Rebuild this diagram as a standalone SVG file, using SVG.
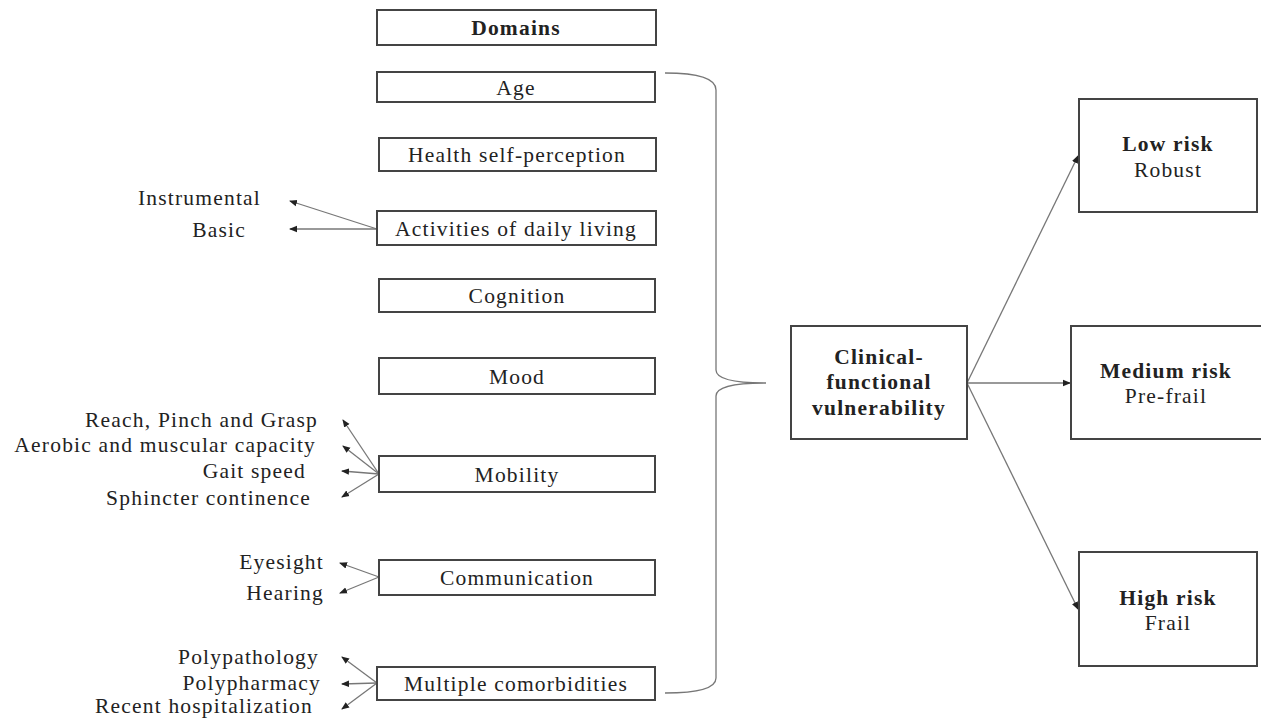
<svg xmlns="http://www.w3.org/2000/svg" width="1261" height="720" viewBox="0 0 1261 720">
<defs>
<style>
text{font-family:"Liberation Serif","Times New Roman",serif;font-size:21.5px;letter-spacing:1.2px;fill:#222}
.b{font-weight:bold}
.box{fill:#fff;stroke:#444;stroke-width:2}
.ln{stroke:#777;stroke-width:1.3;fill:none}
.c{text-anchor:middle}
.r{text-anchor:end}
</style>
<marker id="ah" markerWidth="8" markerHeight="8" refX="7" refY="4" orient="auto" markerUnits="userSpaceOnUse">
<path d="M0,0.8 L8,4 L0,7.2 Z" fill="#222"/>
</marker>
</defs>
<rect width="1261" height="720" fill="#fff"/>
<g id="connectors">
<path class="ln" d="M665,73 Q716,73 716,90 L716,370 Q716,383 766,383 Q716,383 716,396 L716,678 Q716,693 665,693"/>
<line class="ln" x1="967" y1="383" x2="1078" y2="156" marker-end="url(#ah)"/>
<line class="ln" x1="967" y1="383" x2="1070" y2="383" marker-end="url(#ah)"/>
<line class="ln" x1="967" y1="383" x2="1078" y2="609" marker-end="url(#ah)"/>
<line class="ln" x1="377" y1="229" x2="290" y2="201" marker-end="url(#ah)"/>
<line class="ln" x1="377" y1="229" x2="290" y2="229" marker-end="url(#ah)"/>
<line class="ln" x1="379" y1="474" x2="343" y2="420" marker-end="url(#ah)"/>
<line class="ln" x1="379" y1="474" x2="343" y2="446" marker-end="url(#ah)"/>
<line class="ln" x1="379" y1="474" x2="342" y2="471" marker-end="url(#ah)"/>
<line class="ln" x1="379" y1="474" x2="342" y2="497" marker-end="url(#ah)"/>
<line class="ln" x1="379" y1="577" x2="340" y2="563" marker-end="url(#ah)"/>
<line class="ln" x1="379" y1="577" x2="340" y2="593" marker-end="url(#ah)"/>
<line class="ln" x1="377" y1="683" x2="342" y2="657" marker-end="url(#ah)"/>
<line class="ln" x1="377" y1="683" x2="342" y2="684" marker-end="url(#ah)"/>
<line class="ln" x1="377" y1="683" x2="342" y2="709" marker-end="url(#ah)"/>
</g>
<g id="domains"><rect class="box" x="377" y="10" width="279" height="35"/><text class="b c" x="516" y="35">Domains</text></g>
<g id="age"><rect class="box" x="377" y="72" width="278" height="30"/><text class="c" x="516" y="95">Age</text></g>
<g id="health"><rect class="box" x="379" y="138" width="277" height="33"/><text class="c" x="517" y="162">Health self-perception</text></g>
<g id="adl"><rect class="box" x="377" y="211" width="279" height="34"/><text class="c" x="516" y="236">Activities of daily living</text></g>
<g id="cognition"><rect class="box" x="379" y="279" width="276" height="33"/><text class="c" x="517" y="303">Cognition</text></g>
<g id="mood"><rect class="box" x="379" y="358" width="276" height="36"/><text class="c" x="517" y="384">Mood</text></g>
<g id="mobility"><rect class="box" x="379" y="456" width="276" height="36"/><text class="c" x="517" y="482">Mobility</text></g>
<g id="communication"><rect class="box" x="379" y="560" width="276" height="35"/><text class="c" x="517" y="585">Communication</text></g>
<g id="comorbidities"><rect class="box" x="377" y="667" width="278" height="33"/><text class="c" x="516" y="691">Multiple comorbidities</text></g>
<g id="adl-sub"><text class="r" x="261" y="205">Instrumental</text><text class="r" x="246" y="237">Basic</text></g>
<g id="mobility-sub"><text class="r" x="318" y="427">Reach, Pinch and Grasp</text><text class="r" x="316" y="452">Aerobic and muscular capacity</text><text class="r" x="306" y="478">Gait speed</text><text class="r" x="311" y="505">Sphincter continence</text></g>
<g id="communication-sub"><text class="r" x="324" y="569">Eyesight</text><text class="r" x="324" y="600">Hearing</text></g>
<g id="comorbidities-sub"><text class="r" x="319" y="664">Polypathology</text><text class="r" x="321" y="690">Polypharmacy</text><text class="r" x="313" y="713">Recent hospitalization</text></g>
<g id="clinical"><rect class="box" x="791" y="326" width="176" height="113"/><text class="b c" x="879" y="364">Clinical-</text><text class="b c" x="879" y="389">functional</text><text class="b c" x="879" y="415">vulnerability</text></g>
<g id="low"><rect class="box" x="1079" y="99" width="178" height="113"/><text class="b c" x="1168" y="151">Low risk</text><text class="c" x="1168" y="177">Robust</text></g>
<g id="medium"><rect class="box" x="1071" y="326" width="195" height="113"/><text class="b c" x="1166" y="378">Medium risk</text><text class="c" x="1166" y="403">Pre-frail</text></g>
<g id="high"><rect class="box" x="1079" y="552" width="178" height="114"/><text class="b c" x="1168" y="605">High risk</text><text class="c" x="1168" y="630">Frail</text></g>
</svg>
